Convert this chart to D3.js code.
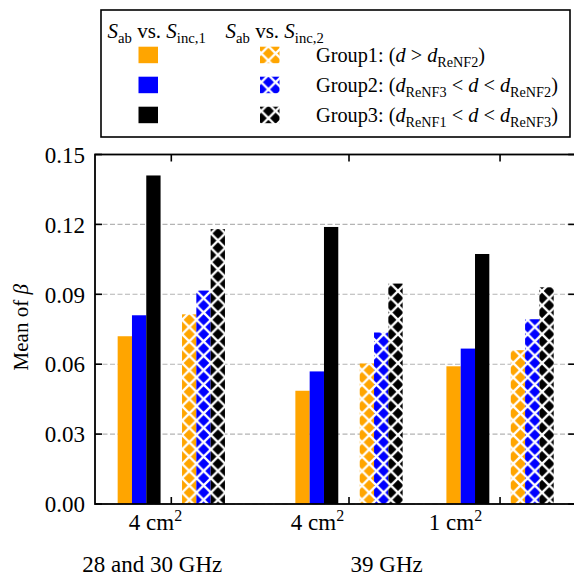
<!DOCTYPE html>
<html>
<head>
<meta charset="utf-8">
<script src="https://cdn.jsdelivr.net/npm/d3@7"></script>
<style>
  html, body { margin: 0; padding: 0; background: #fff; }
  svg { display: block; }
  svg text { font-family: 'Liberation Serif', 'Times New Roman', Times, 'DejaVu Serif', serif; }
</style>
</head>
<body>
<svg id="chart" width="574" height="576" font-family="Liberation Serif, Times New Roman, DejaVu Serif, serif"></svg>
<script>
// Cases along the x axis (aperture area) and the frequency bands below them
const caseNames = ["4 cm", "4 cm", "1 cm"];
const casePositions = [1, 2, 2.85];
const caseLabelPositions = [0.911, 1.823, 2.599];
const bandNames = ["28 and 30 GHz", "39 GHz"];
const bandLabelPositions = [0.893, 2.212];

// Distance groups
const groupColors = ["#ffa500", "#0000ff", "#000000"];

// Mean of beta, S_ab vs. S_inc,1 (solid bars)
const inc1Group1 = [0.072, 0.0486, 0.0591];
const inc1Group2 = [0.081, 0.0569, 0.0667];
const inc1Group3 = [0.141, 0.1189, 0.1073];
// Mean of beta, S_ab vs. S_inc,2 (hatched bars)
const inc2Group1 = [0.0814, 0.0603, 0.066];
const inc2Group2 = [0.0916, 0.0736, 0.0793];
const inc2Group3 = [0.118, 0.0946, 0.093];

const yTicks = [0, 0.03, 0.06, 0.09, 0.12, 0.15];
const yTickLabels = ["0.00", "0.03", "0.06", "0.09", "0.12", "0.15"];

const barWidth = 0.0805;
const inc1Offsets = [-3.25, -2.25, -1.25];
const inc2Offsets = [1.25, 2.25, 3.25];

const svg = d3.select("#chart");
const plot = { left: 95, right: 575.2, top: 154.5, bottom: 504 };

const x = d3.scaleLinear().domain([0.5706, 3.2729]).range([plot.left, plot.right]);
const y = d3.scaleLinear().domain([0, 0.15]).range([plot.bottom, plot.top]);
const bw = x(barWidth) - x(0);

// Hatch patterns: white crossing lines over the group colour
const defs = svg.append("defs");
const p = 14.4;
groupColors.forEach((c, i) => {
  const pat = defs.append("pattern")
    .attr("id", "hatch" + i)
    .attr("patternUnits", "userSpaceOnUse")
    .attr("width", p).attr("height", p)
    .attr("x", x(casePositions[0] + inc2Offsets[0] * barWidth) - bw / 2)
    .attr("y", 3);
  pat.append("rect").attr("width", p).attr("height", p).attr("fill", c);
  let d = "";
  for (let k = -1; k <= 1; k++) {
    d += `M${-p},${-p + k * p}L${2 * p},${2 * p + k * p}`;
    d += `M${-p},${2 * p + k * p}L${2 * p},${-p + k * p}`;
  }
  pat.append("path").attr("d", d).attr("stroke", "#fff").attr("stroke-width", 2.3).attr("fill", "none");
});

// Grid lines
svg.append("g").selectAll("line").data(yTicks).join("line")
  .attr("x1", plot.left).attr("x2", plot.right)
  .attr("y1", d => y(d)).attr("y2", d => y(d))
  .attr("stroke", "#b4b4b4").attr("stroke-width", 1.1)
  .attr("stroke-dasharray", "5,2.5");

// Bars
const inc1 = [inc1Group1, inc1Group2, inc1Group3];
const inc2 = [inc2Group1, inc2Group2, inc2Group3];
const bars = [];
inc1.forEach((vals, g) => vals.forEach((v, c) => bars.push({ pos: casePositions[c] + inc1Offsets[g] * barWidth, v, fill: groupColors[g] })));
inc2.forEach((vals, g) => vals.forEach((v, c) => bars.push({ pos: casePositions[c] + inc2Offsets[g] * barWidth, v, fill: `url(#hatch${g})` })));

svg.append("g").selectAll("rect").data(bars).join("rect")
  .attr("x", d => x(d.pos) - bw / 2)
  .attr("width", bw)
  .attr("y", d => y(d.v))
  .attr("height", d => y(0) - y(d.v))
  .attr("fill", d => d.fill);

// Axes (ticks pointing inward on all four sides)
const tickLen = 7;
const axisG = svg.append("g").attr("stroke", "#000").attr("stroke-width", 1.6);
casePositions.forEach(cp => {
  axisG.append("line").attr("x1", x(cp)).attr("x2", x(cp)).attr("y1", plot.bottom).attr("y2", plot.bottom - tickLen);
  axisG.append("line").attr("x1", x(cp)).attr("x2", x(cp)).attr("y1", plot.top).attr("y2", plot.top + tickLen);
});
yTicks.forEach(t => {
  axisG.append("line").attr("x1", plot.left).attr("x2", plot.left + tickLen).attr("y1", y(t)).attr("y2", y(t));
  axisG.append("line").attr("x1", plot.right).attr("x2", plot.right - tickLen).attr("y1", y(t)).attr("y2", y(t));
});
svg.append("rect")
  .attr("x", plot.left).attr("y", plot.top)
  .attr("width", plot.right - plot.left).attr("height", plot.bottom - plot.top)
  .attr("fill", "none").attr("stroke", "#000").attr("stroke-width", 1.8);

// Y tick labels
svg.append("g").selectAll("text").data(yTicks).join("text")
  .attr("x", plot.left - 10).attr("y", d => y(d)).attr("dy", "0.36em")
  .attr("text-anchor", "end").attr("font-size", 23)
  .text((d, i) => yTickLabels[i]);

// X tick labels with superscript
caseNames.forEach((n, i) => {
  const t = svg.append("text").attr("x", x(caseLabelPositions[i])).attr("y", 530)
    .attr("text-anchor", "middle").attr("font-size", 23);
  t.append("tspan").text(n);
  t.append("tspan").attr("font-size", 16).attr("dy", -9).text("2");
});

// Band labels
bandNames.forEach((n, i) => {
  svg.append("text").attr("x", x(bandLabelPositions[i])).attr("y", 572)
    .attr("text-anchor", "middle").attr("font-size", 23).text(n);
});

// Y axis title
const yt = svg.append("text")
  .attr("transform", `translate(28,${(y(0.06) + y(0.09)) / 2 - 2}) rotate(-90)`)
  .attr("text-anchor", "middle").attr("font-size", 21);
yt.append("tspan").text("Mean of ");
yt.append("tspan").attr("font-style", "italic").text("β");

// Legend
function rich(sel, parts, size) {
  const t = sel.attr("font-size", size);
  let shift = 0;
  parts.forEach(pt => {
    const s = t.append("tspan").text(pt.t);
    if (pt.i) s.attr("font-style", "italic");
    const want = pt.sub ? size * 0.25 : 0;
    if (want !== shift) { s.attr("dy", want - shift); shift = want; }
    if (pt.sub) s.attr("font-size", size * 0.7);
  });
  return t;
}

const legend = svg.append("g");
legend.append("rect").attr("x", 101).attr("y", 10).attr("width", 469).attr("height", 127)
  .attr("fill", "#fff").attr("stroke", "#000").attr("stroke-width", 1.6);

rich(legend.append("text").attr("x", 107.5).attr("y", 37.5),
  [{ t: "S", i: true }, { t: "ab", sub: true }, { t: " vs. " }, { t: "S", i: true }, { t: "inc,1", sub: true }], 21);
rich(legend.append("text").attr("x", 225.5).attr("y", 37.5),
  [{ t: "S", i: true }, { t: "ab", sub: true }, { t: " vs. " }, { t: "S", i: true }, { t: "inc,2", sub: true }], 21);

const rowY = [46.7, 76.7, 106.7];
groupColors.forEach((c, g) => {
  legend.append("rect").attr("x", 138.5).attr("y", rowY[g]).attr("width", 19.5).attr("height", 16.5).attr("fill", c);
  legend.append("rect").attr("x", 260).attr("y", rowY[g]).attr("width", 19.5).attr("height", 16.5).attr("fill", `url(#hatch${g})`);
});

const groupTexts = [
  [{ t: "Group1: (" }, { t: "d", i: true }, { t: " > " }, { t: "d", i: true }, { t: "ReNF2", sub: true }, { t: ")" }],
  [{ t: "Group2: (" }, { t: "d", i: true }, { t: "ReNF3", sub: true }, { t: " < " }, { t: "d", i: true }, { t: " < " }, { t: "d", i: true }, { t: "ReNF2", sub: true }, { t: ")" }],
  [{ t: "Group3: (" }, { t: "d", i: true }, { t: "ReNF1", sub: true }, { t: " < " }, { t: "d", i: true }, { t: " < " }, { t: "d", i: true }, { t: "ReNF3", sub: true }, { t: ")" }]
];
groupTexts.forEach((parts, g) => {
  rich(legend.append("text").attr("x", 316).attr("y", 62 + g * 30), parts, 20.3);
});
</script>
</body>
</html>
